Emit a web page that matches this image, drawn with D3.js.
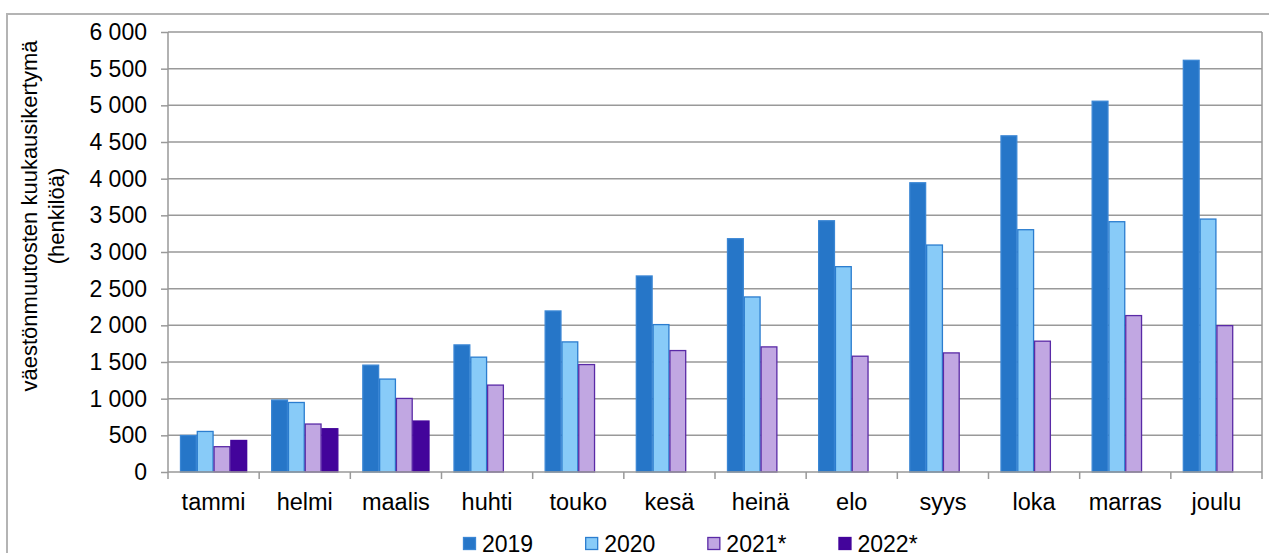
<!DOCTYPE html>
<html>
<head>
<meta charset="utf-8">
<script src="https://cdn.jsdelivr.net/npm/d3@7"></script>
<style>
  body { margin: 0; background: #fff; }
  text { font-family: "Liberation Sans", Arial, sans-serif; fill: #000; }
</style>
</head>
<body>
<div id="output"></div>
<script>
var months = ['tammi', 'helmi', 'maalis', 'huhti', 'touko', 'kesä', 'heinä', 'elo', 'syys', 'loka', 'marras', 'joulu'];
var seriesNames = ['2019', '2020', '2021*', '2022*'];
var v2019 = [498, 981, 1457, 1733, 2196, 2673, 3181, 3426, 3944, 4584, 5056, 5614];
var v2020 = [553, 948, 1267, 1566, 1774, 2010, 2387, 2800, 3095, 3304, 3413, 3449];
var v2021 = [345, 654, 1003, 1185, 1465, 1656, 1706, 1579, 1624, 1784, 2133, 1996];
var v2022 = [430, 590, 695];
var yTicks = [0, 500, 1000, 1500, 2000, 2500, 3000, 3500, 4000, 4500, 5000, 5500, 6000];

var width = 1269;
var height = 553;
var plotLeft = 168, plotRight = 1262, plotTop = 32, plotBottom = 472;

var fills = ['#2676C8', '#88CBF8', '#C1A7E2', '#43049B'];
var strokes = ['#3A86D4', '#2B7DCF', '#5A2AA6', '#43049B'];

var allSeries = [v2019, v2020, v2021, v2022];
var rows = [];
allSeries.forEach(function (vals, s) {
  vals.forEach(function (v, i) {
    rows.push({ month: months[i], series: seriesNames[s], s: s, value: v });
  });
});

var svg = d3.select('#output')
  .append('svg')
  .attr('width', width)
  .attr('height', height);

// outer frame
svg.append('rect')
  .attr('x', 7).attr('y', 14)
  .attr('width', width + 10).attr('height', height + 10)
  .attr('fill', 'none')
  .attr('stroke', '#b4b4b4')
  .attr('stroke-width', 2);

var x0 = d3.scaleBand().domain(months).range([plotLeft, plotRight]);
var x1 = d3.scaleBand().domain(seriesNames).range([12, x0.bandwidth() - 12]);
var y = d3.scaleLinear().domain([0, 6000]).range([plotBottom, plotTop]);

// gridlines
svg.append('g')
  .selectAll('line')
  .data(yTicks.filter(function (d) { return d > 0; }))
  .enter()
  .append('line')
  .attr('x1', plotLeft).attr('x2', plotRight)
  .attr('y1', function (d) { return y(d); })
  .attr('y2', function (d) { return y(d); })
  .attr('stroke', '#999')
  .attr('stroke-width', 1.5);

// right border of plot
svg.append('line')
  .attr('x1', plotRight).attr('x2', plotRight)
  .attr('y1', plotTop).attr('y2', plotBottom)
  .attr('stroke', '#999').attr('stroke-width', 1.5);

// Y-axis
var yAxis = d3.axisLeft(y)
  .tickValues(yTicks)
  .tickSize(7)
  .tickPadding(14)
  .tickFormat(function (d) { return d3.format(',')(d).replace(/,/g, '\u00a0'); });

var gy = svg.append('g')
  .attr('transform', 'translate(' + plotLeft + ',0)')
  .call(yAxis);
gy.selectAll('text').attr('font-size', 23).attr('font-family', '"Liberation Sans", Arial, sans-serif');
gy.selectAll('line, path').attr('stroke', '#999').attr('stroke-width', 1.5);
gy.select('.domain').attr('d', 'M0,' + plotTop + 'V' + plotBottom);

// bars
svg.append('g')
  .selectAll('rect')
  .data(rows)
  .enter()
  .append('rect')
  .attr('x', function (d) { return x0(d.month) + x1(d.series) + 0.5; })
  .attr('y', function (d) { return y(d.value); })
  .attr('width', x1.bandwidth() - 1)
  .attr('height', function (d) { return plotBottom - y(d.value); })
  .attr('fill', function (d) { return fills[d.s]; })
  .attr('stroke', function (d) { return strokes[d.s]; })
  .attr('stroke-width', 1.3);

// X-axis
var xAxis = d3.axisBottom(x0).tickSize(0).tickPadding(21);
var gx = svg.append('g')
  .attr('transform', 'translate(0,' + plotBottom + ')')
  .call(xAxis);
gx.selectAll('text').attr('font-size', 23.5).attr('font-family', '"Liberation Sans", Arial, sans-serif');
gx.select('.domain').attr('stroke', '#999').attr('stroke-width', 1.5).attr('d', 'M' + plotLeft + ',0H' + plotRight);

// category boundary ticks
gx.selectAll('.sep')
  .data(months.concat(['end']))
  .enter()
  .append('line')
  .attr('x1', function (d, i) { return plotLeft + i * x0.bandwidth(); })
  .attr('x2', function (d, i) { return plotLeft + i * x0.bandwidth(); })
  .attr('y1', 0).attr('y2', 7)
  .attr('stroke', '#999').attr('stroke-width', 1.5);

// y label
var yl = svg.append('text')
  .attr('transform', 'translate(37,216) rotate(-90)')
  .attr('text-anchor', 'middle')
  .attr('font-size', 22);
yl.append('tspan').attr('x', 0).attr('y', 0).text('väestönmuutosten kuukausikertymä');
yl.append('tspan').attr('x', 0).attr('y', 27).text('(henkilöä)');

// legend
var lx = 463;
seriesNames.forEach(function (name, s) {
  var g = svg.append('g').attr('transform', 'translate(' + lx + ',537)');
  g.append('rect')
    .attr('x', 0.5).attr('y', 0.5)
    .attr('width', 12).attr('height', 12)
    .attr('fill', fills[s])
    .attr('stroke', strokes[s]).attr('stroke-width', 1.3);
  var t = g.append('text')
    .attr('x', 19).attr('y', 15)
    .attr('font-size', 23)
    .text(name);
  lx += 19 + t.node().getComputedTextLength() + 52;
});
</script>
</body>
</html>
